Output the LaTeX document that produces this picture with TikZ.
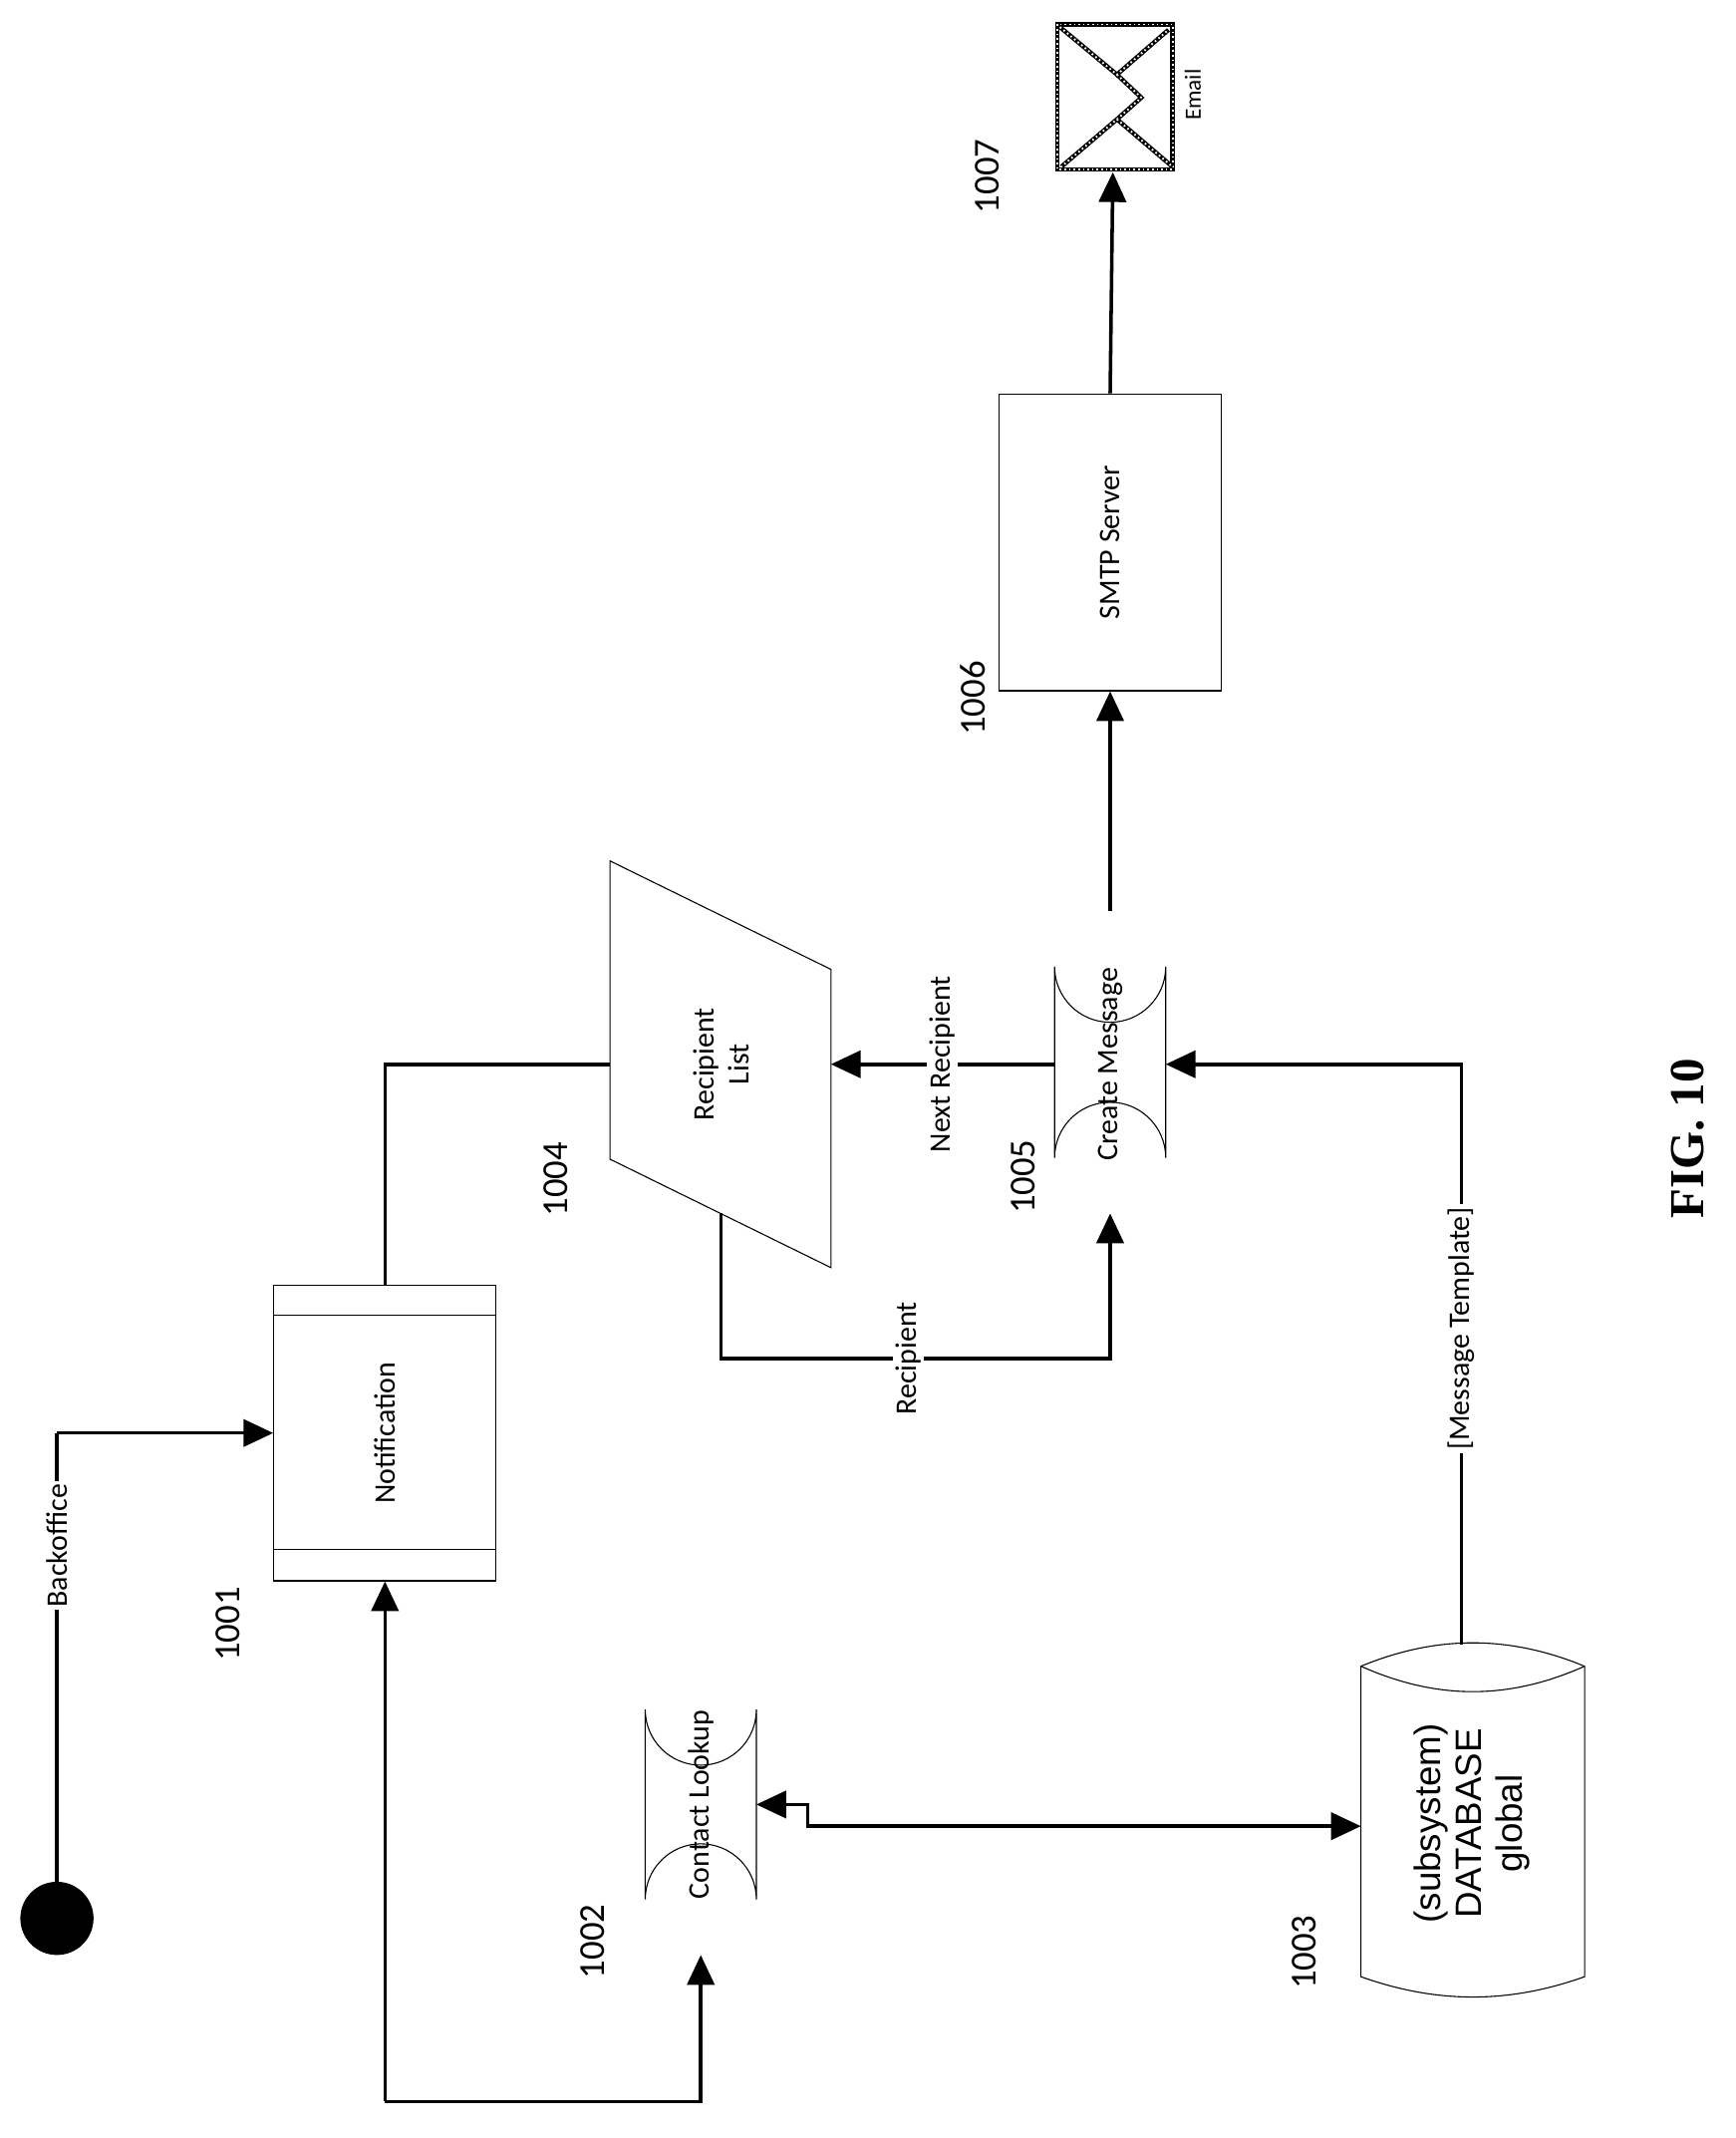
\documentclass[tikz,border=0pt]{standalone}
\usepackage{fontspec}
\setmainfont{Carlito}
\newfontfamily\arialf{Liberation Sans}
\newfontfamily\timesf{Liberation Serif}
\usetikzlibrary{arrows.meta,shapes.geometric}
\begin{document}
\begin{tikzpicture}[x=1pt,y=-1pt,
  conn/.style={line width=2.6pt},
  arr/.style={conn,-{Triangle[length=22pt,width=20pt]}},
  shp/.style={draw,line width=0.8pt,fill=white},
  txt/.style={rotate=90,font=\fontsize{22}{26}\selectfont,align=center},
  num/.style={rotate=90,font=\fontsize{27}{30}\selectfont},
  lab/.style={rotate=90,font=\fontsize{22}{26}\selectfont,fill=white,inner sep=2pt},
  envl/.style={white,line width=1.4pt,dash pattern=on 1.2pt off 2.2pt,line join=round,
     preaction={draw=black,line width=3.2pt,solid}}]
\useasboundingbox (0,0) rectangle (1280,1577);
% start
\fill (42,1415) circle (27);
\coordinate (s) at (42,1390);
\coordinate (b1) at (42,1057);
% Notification
\node[shp,minimum width=164pt,minimum height=218pt,inner sep=0] (not) at (284,1057) {};
\draw[line width=0.8pt] (202,970) -- (366,970) (202,1143) -- (366,1143);
\node[txt] at (284,1057) {Notification};
% contact lookup
\draw[shp] (476,1261) arc(180:0:41) -- (558,1401) arc(0:-180:41) -- cycle;
\coordinate (clb) at (517,1442);
\coordinate (clr) at (558,1331);
\node[txt] at (517,1331) {Contact Lookup};
% database
\draw[shp] (1004,1229) -- (1004,1458) .. controls (1060,1478) and (1113,1478) .. (1169,1458) -- (1169,1229) .. controls (1113,1206) and (1060,1206) .. (1004,1229);
\draw[line width=0.8pt] (1004,1229) .. controls (1060,1254) and (1113,1254) .. (1169,1229);
\coordinate (dbl) at (1004,1347);
\coordinate (dbt) at (1078,1213);
\node[rotate=90,font=\arialf\fontsize{27}{30}\selectfont,align=center] at (1086,1345) {(subsystem)\\DATABASE\\global};
% recipient list
\draw[shp] (450,635) -- (613,715) -- (613,935) -- (450,855) -- cycle;
\coordinate (rll) at (450,785);
\coordinate (rlr) at (613,785);
\coordinate (rlb) at (532,895);
\node[txt] at (532,785) {Recipient\\List};
% create message
\draw[shp] (778,713) arc(180:0:41) -- (860,854) arc(0:-180:41) -- cycle;
\coordinate (cmr) at (860,785);
\coordinate (cml) at (778,785);
\coordinate (cmb) at (819,895);
\coordinate (cmt) at (819,672);
\node[txt] at (819,785) {Create Message};
% SMTP
\node[shp,minimum width=164pt,minimum height=219pt,inner sep=0] (smtp) at (819,400) {};
\node[txt] at (819,400) {SMTP Server};
% email
\coordinate (em) at (821,127);
\draw[envl] (780,18) rectangle (865,125);
\draw[envl] (782,20) -- (824,55) -- (862,22);
\draw[envl] (824,55) -- (842,72) -- (824,88) -- (783,123);
\draw[envl] (824,88) -- (865,123);
\node[rotate=90,font=\fontsize{17}{20}\selectfont] at (880,70) {Email};
% connectors
\draw[conn] (s) -- (b1);
\draw[arr] (b1) -- (not.west |- b1);
\node[lab] at (42,1140) {Backoffice};
\draw[arr] (284,1550) -- (not.south);
\draw[arr] (284,1550) -- (517,1550) -- (clb);
\draw[conn,{Triangle[length=22pt,width=20pt]}-{Triangle[length=22pt,width=20pt]}] (clr) -- (596,1331) -- (596,1347) -- (dbl);
\draw[arr] (dbt) -- (1078,785) -- (cmr);
\node[lab] at (1078,980) {[Message Template]};
\draw[conn] (not.north) -- (284,785) -- (rll);
\draw[arr] (cml) -- (rlr);
\node[lab] at (695,785) {Next Recipient};
\draw[arr] (rlb) -- (532,1002) -- (819,1002) -- (cmb);
\node[lab] at (670,1002) {Recipient};
\draw[arr] (cmt) -- (smtp.south);
\draw[arr] (smtp.north) -- (em);
% numbers
\node[num] at (168,1198) {1001};
\node[num] at (437,1432) {1002};
\node[num] at (962,1440) {1003};
\node[num] at (410,870) {1004};
\node[num] at (755,868) {1005};
\node[num] at (718,515) {1006};
\node[num] at (728,130) {1007};
\node[rotate=90,font=\timesf\bfseries\fontsize{36}{40}\selectfont] at (1245,840) {FIG. 10};
\end{tikzpicture}
\end{document}
